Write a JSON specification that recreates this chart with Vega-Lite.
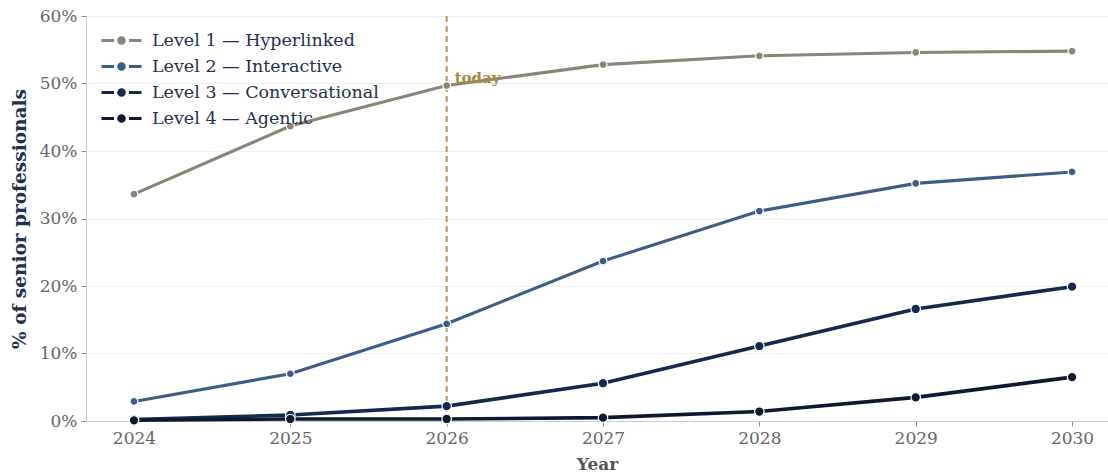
{
  "$schema": "https://vega.github.io/schema/vega-lite/v6.json",
  "width": 1022,
  "height": 405,
  "autosize": {"type": "none"},
  "padding": {"left": 86, "top": 16, "right": 0, "bottom": 55},
  "background": "white",
  "config": {
    "font": "DejaVu Serif",
    "view": {"stroke": null}
  },
  "datasets": {
    "series": [
      {"year": 2024, "level": "Level 1 — Hyperlinked", "value": 0.336},
      {"year": 2025, "level": "Level 1 — Hyperlinked", "value": 0.437},
      {"year": 2026, "level": "Level 1 — Hyperlinked", "value": 0.497},
      {"year": 2027, "level": "Level 1 — Hyperlinked", "value": 0.528},
      {"year": 2028, "level": "Level 1 — Hyperlinked", "value": 0.541},
      {"year": 2029, "level": "Level 1 — Hyperlinked", "value": 0.546},
      {"year": 2030, "level": "Level 1 — Hyperlinked", "value": 0.548},
      {"year": 2024, "level": "Level 2 — Interactive", "value": 0.029},
      {"year": 2025, "level": "Level 2 — Interactive", "value": 0.070},
      {"year": 2026, "level": "Level 2 — Interactive", "value": 0.144},
      {"year": 2027, "level": "Level 2 — Interactive", "value": 0.237},
      {"year": 2028, "level": "Level 2 — Interactive", "value": 0.311},
      {"year": 2029, "level": "Level 2 — Interactive", "value": 0.352},
      {"year": 2030, "level": "Level 2 — Interactive", "value": 0.369},
      {"year": 2024, "level": "Level 3 — Conversational", "value": 0.002},
      {"year": 2025, "level": "Level 3 — Conversational", "value": 0.009},
      {"year": 2026, "level": "Level 3 — Conversational", "value": 0.022},
      {"year": 2027, "level": "Level 3 — Conversational", "value": 0.056},
      {"year": 2028, "level": "Level 3 — Conversational", "value": 0.111},
      {"year": 2029, "level": "Level 3 — Conversational", "value": 0.166},
      {"year": 2030, "level": "Level 3 — Conversational", "value": 0.199},
      {"year": 2024, "level": "Level 4 — Agentic", "value": 0.001},
      {"year": 2025, "level": "Level 4 — Agentic", "value": 0.003},
      {"year": 2026, "level": "Level 4 — Agentic", "value": 0.003},
      {"year": 2027, "level": "Level 4 — Agentic", "value": 0.005},
      {"year": 2028, "level": "Level 4 — Agentic", "value": 0.014},
      {"year": 2029, "level": "Level 4 — Agentic", "value": 0.035},
      {"year": 2030, "level": "Level 4 — Agentic", "value": 0.065}
    ],
    "marker": [{"year": 2026, "label": "today", "value": 0.508}]
  },
  "layer": [
    {
      "data": {"name": "marker"},
      "mark": {"type": "rule", "color": "#b8975a", "strokeWidth": 2, "strokeDash": [6, 4]},
      "encoding": {
        "x": {"field": "year", "type": "quantitative", "scale": {"domain": [2023.693, 2030.23], "nice": false, "zero": false}}
      }
    },
    {
      "data": {"name": "series"},
      "mark": {"type": "line"},
      "encoding": {
        "x": {
          "field": "year", "type": "quantitative",
          "scale": {"domain": [2023.693, 2030.23], "nice": false, "zero": false},
          "axis": {
            "values": [2024, 2025, 2026, 2027, 2028, 2029, 2030],
            "format": "d",
            "title": "Year",
            "titleFont": "DejaVu Serif",
            "titleFontSize": 17,
            "titleFontWeight": "bold",
            "titleColor": "#555555",
            "titleY": 35,
            "labelFontSize": 17,
            "labelColor": "#666666",
            "labelPadding": 4,
            "tickSize": 5,
            "tickColor": "#888888",
            "domainColor": "#cccccc",
            "grid": false
          }
        },
        "y": {
          "field": "value", "type": "quantitative",
          "scale": {"domain": [0, 0.6], "nice": false},
          "axis": {
            "values": [0, 0.1, 0.2, 0.3, 0.4, 0.5, 0.6],
            "format": ".0%",
            "title": "% of senior professionals",
            "titleFontSize": 18.5,
            "titleFontWeight": "bold",
            "titleColor": "#1f3050",
            "titleX": -57,
            "labelFontSize": 17,
            "labelColor": "#666666",
            "labelPadding": 4,
            "tickSize": 5,
            "tickColor": "#888888",
            "domainColor": "#cccccc",
            "gridColor": "#eeeeee",
            "gridWidth": 1
          }
        },
        "color": {
          "field": "level", "type": "nominal",
          "scale": {
            "domain": ["Level 1 — Hyperlinked", "Level 2 — Interactive", "Level 3 — Conversational", "Level 4 — Agentic"],
            "range": ["#8b8479", "#3f5c88", "#14294d", "#0d1831"]
          },
          "legend": {
            "title": null,
            "orient": "none",
            "legendX": 24,
            "legendY": 13,
            "padding": 0,
            "symbolType": "M-2,0H-0.75M0.75,0H2M0.28,0A0.28,0.28,0,1,1,-0.28,0A0.28,0.28,0,1,1,0.28,0Z",
            "symbolSize": 400,
            "symbolStrokeWidth": 3,
            "labelOffset": 19,
            "labelFontSize": 17.5,
            "labelLimit": 0,
            "labelColor": "#1f3050",
            "rowPadding": 5,
            "labelFont": "DejaVu Serif",
            "encode": {"symbols": {"update": {"fill": {"scale": "color", "field": "value"}, "strokeWidth": {"value": 3}, "opacity": {"value": 1}}}}
          }
        },
        "strokeWidth": {
          "condition": {"test": "datum.level == 'Level 3 — Conversational' || datum.level == 'Level 4 — Agentic'", "value": 3.6},
          "value": 3.1
        }
      }
    },
    {
      "data": {"name": "series"},
      "mark": {"type": "point", "filled": true, "opacity": 1, "stroke": "white", "strokeWidth": 1.2},
      "encoding": {
        "x": {"field": "year", "type": "quantitative", "scale": {"domain": [2023.693, 2030.23], "nice": false, "zero": false}},
        "y": {"field": "value", "type": "quantitative", "scale": {"domain": [0, 0.6], "nice": false}},
        "color": {"field": "level", "type": "nominal"},
        "size": {
          "condition": {"test": "datum.level == 'Level 3 — Conversational' || datum.level == 'Level 4 — Agentic'", "value": 90},
          "value": 62
        }
      }
    },
    {
      "data": {"name": "marker"},
      "mark": {"type": "text", "color": "#a88a40", "fontWeight": "bold", "fontSize": 15, "align": "left", "baseline": "middle", "dx": 8},
      "encoding": {
        "x": {"field": "year", "type": "quantitative", "scale": {"domain": [2023.693, 2030.23], "nice": false, "zero": false}},
        "y": {"field": "value", "type": "quantitative", "scale": {"domain": [0, 0.6], "nice": false}},
        "text": {"field": "label"}
      }
    }
  ]
}
